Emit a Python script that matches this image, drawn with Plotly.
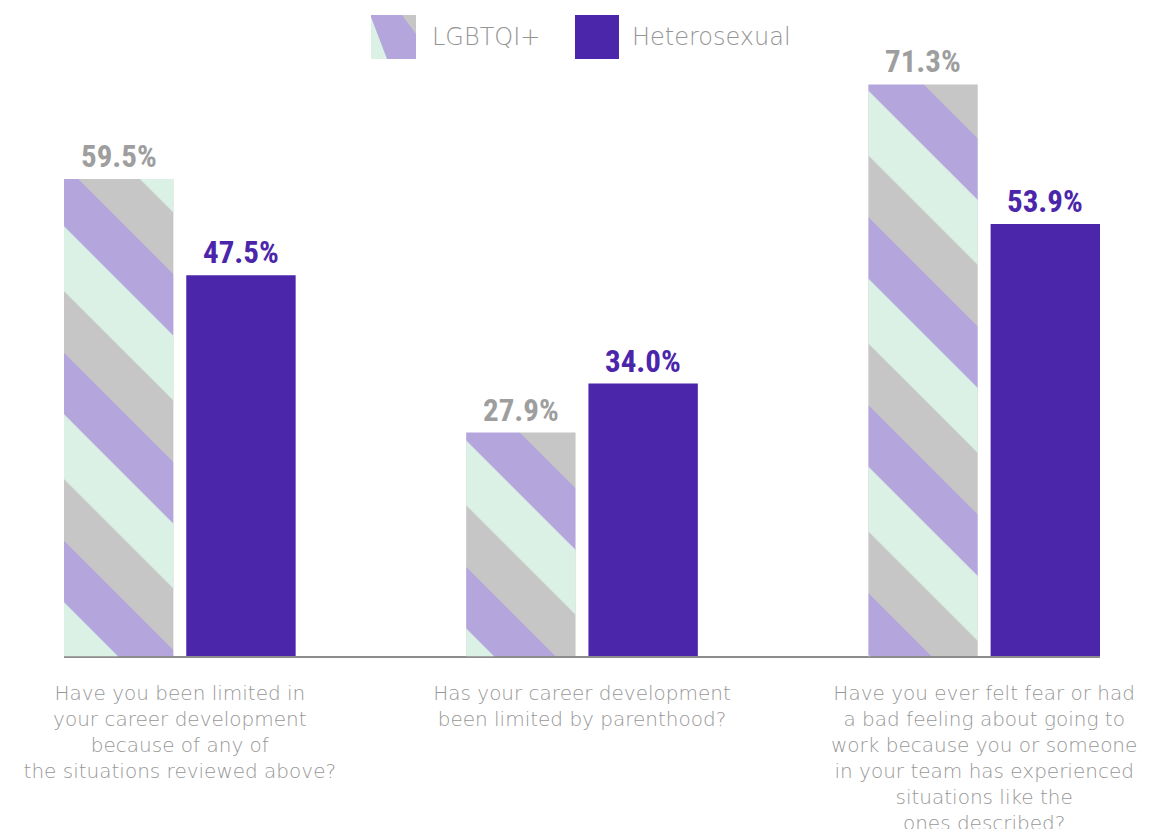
import plotly.graph_objects as go

# data
categories = [
    "Have you been limited in<br>your career development<br>because of any of<br>the situations reviewed above?",
    "Has your career development<br>been limited by parenthood?",
    "Have you ever felt fear or had<br>a bad feeling about going to<br>work because you or someone<br>in your team has experienced<br>situations like the<br>ones described?",
]
series_names = ["LGBTQI+", "Heterosexual"]
lgbtqi = [59.5, 27.9, 71.3]
hetero = [47.5, 34.0, 53.9]

GREEN = "#dbf1e5"
LAVENDER = "#b4a6dd"
GRAY = "#c6c6c6"
PURPLE = "#4b26ab"
VALUE_GRAY = "#9e9e9e"
TEXT_GRAY = "#979797"

W, H = 1157, 829
PAGE = 8                   # body margin of the html page
PLOT_BOTTOM = 656 - PAGE   # baseline, in figure pixels
PX_PER_PCT = 8.017
STRIPE = 188               # vertical period of the stripes
SHIFT = STRIPE / 3         # second stripe layer sits one band lower

mt = 0
mb = H - PLOT_BOTTOM - SHIFT
paper_h = H - mt - mb
delta = SHIFT / paper_h
y_top = PLOT_BOTTOM / PX_PER_PCT
y_shift = SHIFT / PX_PER_PCT

BAR_W = 0.272
OFF_L = -0.288
OFF_H = 0.016
x = list(range(len(categories)))
x_range = [OFF_L, len(categories) - 1 + OFF_H + BAR_W]

ml = 64 - PAGE
mr = W - (1100 - PAGE)
paper_w = W - ml - mr


def px2x(px):
    return (px - PAGE - ml) / paper_w


def py2y(py):
    return (H - mb - (py - PAGE)) / paper_h


pat_size = STRIPE / 2 ** 0.5

fig = go.Figure()
fig.add_bar(
    x=x, y=lgbtqi, name=series_names[0], width=BAR_W, offset=OFF_L,
    marker=dict(color=GRAY, line_width=0,
                pattern=dict(shape="\\", size=pat_size, solidity=1 / 3,
                             bgcolor=GRAY, fgcolor=LAVENDER, fgopacity=1)),
    hoverinfo="skip",
)
fig.add_bar(
    x=x, y=hetero, name=series_names[1], width=BAR_W, offset=OFF_H,
    marker=dict(color=PURPLE, line_width=0),
    hoverinfo="skip",
)
# third stripe colour, drawn on a twin subplot whose origin is shifted one band down
fig.add_bar(
    x=x, y=lgbtqi, width=BAR_W, offset=OFF_L, xaxis="x2", yaxis="y2",
    marker=dict(color="rgba(0,0,0,0)", line_width=0,
                pattern=dict(shape="\\", size=pat_size, solidity=0.345,
                             bgcolor="rgba(0,0,0,0)", fgcolor=GREEN, fgopacity=1)),
    hoverinfo="skip",
)

value_font = dict(family="Roboto Condensed, Roboto", size=31, weight="bold")
annotations = []
for i in x:
    annotations.append(dict(
        x=i + OFF_L + BAR_W / 2, y=lgbtqi[i], xref="x", yref="y",
        text=f"{lgbtqi[i]:.1f}%", showarrow=False, yanchor="bottom", yshift=2,
        font=dict(value_font, color=VALUE_GRAY),
    ))
    annotations.append(dict(
        x=i + OFF_H + BAR_W / 2, y=hetero[i], xref="x", yref="y",
        text=f"{hetero[i]:.1f}%", showarrow=False, yanchor="bottom", yshift=2,
        font=dict(value_font, color=PURPLE),
    ))

# legend
legend_font = dict(family="DejaVu Sans", size=24, color="#959595", weight=300)
annotations.append(dict(
    x=px2x(430), y=py2y(37), xref="paper", yref="paper", xanchor="left", yanchor="middle",
    text=series_names[0], showarrow=False, font=legend_font,
))
annotations.append(dict(
    x=px2x(630), y=py2y(37), xref="paper", yref="paper", xanchor="left", yanchor="middle",
    text=series_names[1], showarrow=False, font=legend_font,
))


def poly(points, color):
    d = "M" + " L".join(f"{px2x(a):.5f},{py2y(b):.5f}" for a, b in points) + " Z"
    return dict(type="path", path=d, xref="paper", yref="paper",
                fillcolor=color, line_width=0, layer="above")


shapes = [
    poly([(371, 15), (416, 15), (416, 59), (371, 59)], LAVENDER),
    poly([(371, 17), (371, 59), (387, 59)], GREEN),
    poly([(402, 15), (416, 15), (416, 34)], GRAY),
    poly([(575, 15), (619, 15), (619, 59), (575, 59)], PURPLE),
]

fig.update_layout(
    width=W, height=H,
    margin=dict(l=ml, r=mr, t=mt, b=mb),
    plot_bgcolor="rgba(0,0,0,0)", paper_bgcolor="white",
    barmode="overlay", showlegend=False,
    xaxis=dict(range=x_range, tickvals=x, ticktext=categories, anchor="y",
               showgrid=False, zeroline=False, showline=True,
               linecolor="#8c8c8c", linewidth=2, ticks="",
               ticklabelstandoff=18, automargin=False,
               tickfont=dict(family="DejaVu Sans", size=20, color=TEXT_GRAY, weight=300)),
    yaxis=dict(domain=[delta, 1], range=[0, y_top], visible=False, anchor="x",
               automargin=False),
    xaxis2=dict(range=x_range, anchor="y2", visible=False, automargin=False),
    yaxis2=dict(domain=[0, 1 - delta], range=[-y_shift, y_top - y_shift],
                visible=False, anchor="x2", automargin=False),
    annotations=annotations,
    shapes=shapes,
)

fig.write_html("out.html")
